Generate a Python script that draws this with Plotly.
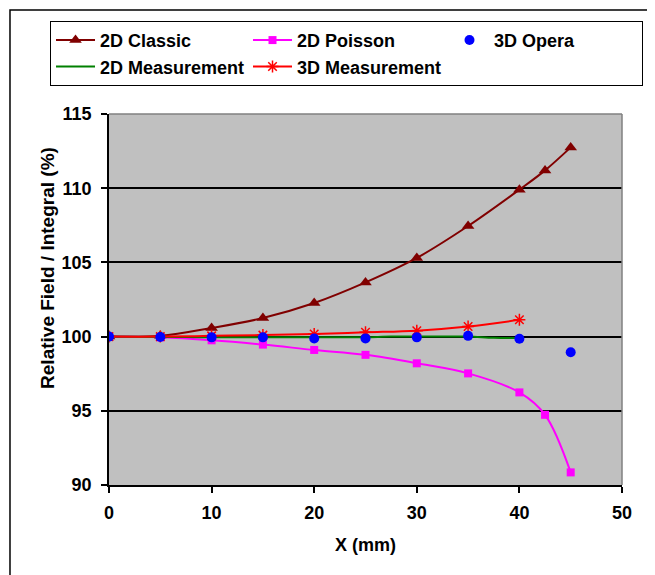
import plotly.graph_objects as go

# ---- data ----
x_classic = [0, 5, 10, 15, 20, 25, 30, 35, 40, 42.5, 45]
y_classic = [100.0, 100.05, 100.58, 101.25, 102.26, 103.65, 105.3, 107.45, 109.9, 111.2, 112.75]

x_poisson = [0, 5, 10, 15, 20, 25, 30, 35, 40, 42.5, 45]
y_poisson = [100.0, 99.95, 99.75, 99.46, 99.1, 98.77, 98.2, 97.52, 96.24, 94.73, 90.85]

x_opera = [0, 5, 10, 15, 20, 25, 30, 35, 40, 45]
y_opera = [100.0, 99.97, 99.95, 99.95, 99.87, 99.88, 99.95, 100.05, 99.85, 98.94]

x_meas2d = [0, 2.5, 5, 7.5, 10, 12.5, 15, 17.5, 20, 22.5, 25, 27.5, 30, 32.5, 35, 37.5, 40]
y_meas2d = [100.0, 99.99, 99.98, 99.97, 99.96, 99.95, 99.95, 99.95, 99.95, 99.95, 99.96, 100.0,
            100.0, 100.0, 100.0, 99.92, 99.9]

x_meas3d = [0, 5, 10, 15, 20, 25, 30, 35, 40]
y_meas3d = [100.0, 100.0, 100.05, 100.1, 100.18, 100.29, 100.4, 100.68, 101.13]

x_ticks = [0, 10, 20, 30, 40, 50]
y_ticks = [90, 95, 100, 105, 110, 115]

FONT = "Liberation Sans, Arial, sans-serif"
FS = 18

fig = go.Figure()

fig.add_trace(go.Scatter(
    x=x_classic, y=y_classic, name="2D Classic", mode="lines+markers",
    line=dict(color="#800000", width=2, shape="spline"),
    marker=dict(symbol="triangle-up", size=11, color="#800000")))

fig.add_trace(go.Scatter(
    x=x_poisson, y=y_poisson, name="2D Poisson", mode="lines+markers",
    line=dict(color="#FF00FF", width=2, shape="spline"),
    marker=dict(symbol="square", size=8, color="#FF00FF")))

fig.add_trace(go.Scatter(
    x=x_meas2d, y=y_meas2d, name="2D Measurement", mode="lines",
    line=dict(color="#008000", width=2, shape="spline")))

fig.add_trace(go.Scatter(
    x=x_meas3d, y=y_meas3d, name="3D Measurement", mode="lines+markers",
    line=dict(color="#FF0000", width=2, shape="spline"),
    marker=dict(symbol="asterisk-open", size=10, color="#FF0000",
                line=dict(color="#FF0000", width=1.5))))

fig.add_trace(go.Scatter(
    x=x_opera, y=y_opera, name="3D Opera", mode="markers",
    marker=dict(symbol="circle", size=10, color="#0000FF")))

order = ["2D Classic", "2D Poisson", "3D Opera", "2D Measurement", "3D Measurement"]
for tr in fig.data:
    tr.legendrank = order.index(tr.name) + 1

fig.update_layout(
    width=647, height=567,
    margin=dict(l=101, r=33, t=106, b=90, autoexpand=False),
    paper_bgcolor="white",
    plot_bgcolor="#C0C0C0",
    font=dict(family=FONT, size=FS, color="black", weight="bold"),
    showlegend=True,
    legend=dict(
        orientation="h", x=-0.115, y=1.251, xanchor="left", yanchor="top",
        bgcolor="white", bordercolor="black", borderwidth=1,
        itemwidth=39,
        entrywidth=143, entrywidthmode="pixels",
        font=dict(family=FONT, size=FS, color="black", weight="bold"),
        traceorder="normal"),
    xaxis=dict(
        range=[0, 50], tickvals=x_ticks, ticktext=[str(v) for v in x_ticks],
        showgrid=False, zeroline=False,
        showline=True, linecolor="black", linewidth=1.5,
        ticks="outside", ticklen=6, tickcolor="black", tickwidth=1.5,
        ticklabelstandoff=5,
        tickfont=dict(family=FONT, size=FS, color="black", weight="bold"),
        title=dict(text="X (mm)", standoff=16,
                   font=dict(family=FONT, size=FS, color="black", weight="bold"))),
    yaxis=dict(
        range=[90, 115], tickvals=y_ticks, ticktext=[str(v) for v in y_ticks],
        showgrid=True, gridcolor="black", gridwidth=1.5, zeroline=False,
        showline=True, linecolor="black", linewidth=1.5,
        ticks="outside", ticklen=6, tickcolor="black", tickwidth=1.5,
        ticklabelstandoff=6,
        tickfont=dict(family=FONT, size=FS, color="black", weight="bold")),
    shapes=[
        # plot-area top/right frame
        dict(type="line", xref="paper", yref="paper", x0=0, x1=1, y0=1, y1=1,
             line=dict(color="#808080", width=1.5), layer="above"),
        dict(type="line", xref="paper", yref="paper", x0=1, x1=1, y0=0, y1=1,
             line=dict(color="#808080", width=1.5), layer="above"),
        # outer chart border
        dict(type="rect", xref="paper", yref="paper",
             x0=-0.193, x1=1.0585, y0=-0.27, y1=1.2805,
             line=dict(color="black", width=1.5), fillcolor="rgba(0,0,0,0)",
             layer="below"),
    ],
    annotations=[
        dict(text="Relative Field / Integral (%)", textangle=-90,
             xref="paper", yref="paper", x=-0.119, y=0.585,
             xanchor="center", yanchor="middle", showarrow=False,
             font=dict(family=FONT, size=19, color="black", weight="bold")),
    ],
)

fig.write_html("out.html")
